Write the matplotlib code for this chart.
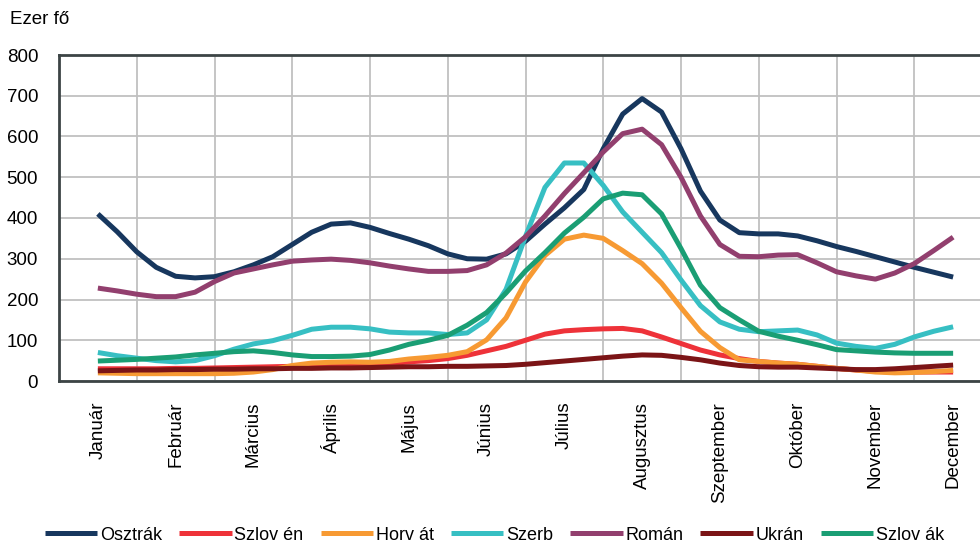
import numpy as np
import matplotlib
matplotlib.use("Agg")
import matplotlib.pyplot as plt

plt.rcParams['font.family'] = ['Liberation Sans', 'DejaVu Sans']

# Months shown on the x axis
honapok = ["Január", "Február", "Március", "Április", "Május", "Június",
           "Július", "Augusztus", "Szeptember", "Október", "November", "December"]

# Values in thousand people, sampled every quarter month (Jan .. Dec)
osztrak = [410, 366, 317, 279, 257, 253, 256, 268, 285, 305, 335, 365, 385, 388, 377,
           362, 348, 332, 312, 300, 299, 312, 343, 385, 425, 470, 570, 655, 693, 660,
           570, 466, 395, 364, 361, 361, 356, 344, 330, 318, 305, 292, 279, 267, 255]
szloven = [30, 30, 30, 30, 31, 31, 32, 33, 34, 35, 36, 37, 38, 39, 40,
           42, 47, 50, 55, 63, 74, 85, 100, 115, 123, 126, 128, 129, 123, 108,
           92, 76, 64, 55, 48, 44, 41, 36, 31, 27, 24, 22, 22, 22, 22]
horvat = [20, 19, 18, 18, 18, 18, 18, 19, 22, 28, 38, 44, 46, 47, 46,
          48, 54, 58, 63, 72, 101, 155, 243, 308, 348, 358, 350, 320, 288, 240,
          180, 122, 82, 52, 48, 44, 41, 36, 31, 27, 22, 20, 21, 23, 26]
szerb = [70, 62, 56, 50, 47, 50, 62, 78, 91, 99, 112, 127, 132, 132, 128,
         120, 118, 118, 114, 118, 150, 225, 355, 475, 535, 535, 480, 415, 365, 315,
         248, 185, 145, 127, 121, 123, 125, 113, 93, 85, 80, 90, 108, 122, 133]
roman = [228, 221, 213, 207, 207, 218, 244, 265, 275, 285, 294, 297, 299, 296, 290,
         282, 275, 269, 269, 271, 285, 314, 354, 405, 460, 511, 562, 607, 618, 580,
         500, 405, 335, 306, 305, 309, 310, 290, 268, 258, 250, 265, 288, 320, 353]
ukran = [25, 26, 27, 27, 28, 28, 29, 29, 30, 30, 31, 31, 32, 32, 33,
         34, 35, 35, 36, 36, 37, 38, 41, 45, 49, 53, 57, 61, 64, 63,
         58, 52, 44, 38, 35, 34, 34, 32, 30, 28, 28, 30, 33, 36, 39]
szlovak = [49, 51, 53, 56, 59, 64, 68, 72, 74, 70, 64, 60, 60, 61, 65,
           76, 90, 100, 112, 137, 168, 216, 270, 315, 363, 402, 447, 461, 457, 410,
           325, 235, 180, 150, 122, 110, 100, 89, 77, 74, 71, 69, 68, 68, 68]

series = [
    ("Osztrák", osztrak, "#17375E"),
    ("Szlov én", szloven, "#EE3239"),
    ("Horv át", horvat, "#F79A33"),
    ("Szerb", szerb, "#37BFC3"),
    ("Román", roman, "#923F6E"),
    ("Ukrán", ukran, "#7B1416"),
    ("Szlov ák", szlovak, "#1A9E74"),
]

fs = 13.5

fig = plt.figure(figsize=(9.8, 5.44), dpi=100)
# the plot area runs a bit past the right edge of the picture, as in the original
ax = fig.add_axes([59 / 980, 1 - 381 / 544, 933 / 980, 326 / 544])

pos = np.arange(len(osztrak)) / 4.0
for name, vals, col in series:
    ax.plot(pos, vals, color=col, lw=3.6, label=name, solid_capstyle="butt", zorder=3)

ax.set_xlim(-0.5, 11.5)
ax.set_ylim(0, 800)
ax.set_yticks(range(0, 801, 100))
ax.set_xticks(range(12))
ax.set_xticklabels(honapok, rotation=90, fontsize=fs)
ax.set_xticks(np.arange(-0.5, 12, 1), minor=True)
ax.tick_params(axis="x", which="both", length=0, pad=15)
ax.tick_params(axis="y", length=0, pad=15, labelsize=fs)

ax.grid(True, axis="y", color="#C0C0C0", lw=1.3, zorder=0)
ax.grid(True, axis="x", which="minor", color="#C0C0C0", lw=1.3, zorder=0)
for sp in ax.spines.values():
    sp.set_color("#3C4445")
    sp.set_linewidth(2)

fig.text(10 / 980, 1 - 20 / 544, "Ezer fő", fontsize=fs, va="center", ha="left")

fig.legend(loc="center left", bbox_to_anchor=(45 / 980, 1 - 535 / 544), ncol=7,
           frameon=False, fontsize=13, handlelength=2.9, handletextpad=0.15,
           columnspacing=0.95, borderpad=0, borderaxespad=0)

fig.savefig("out.png", dpi=100)
